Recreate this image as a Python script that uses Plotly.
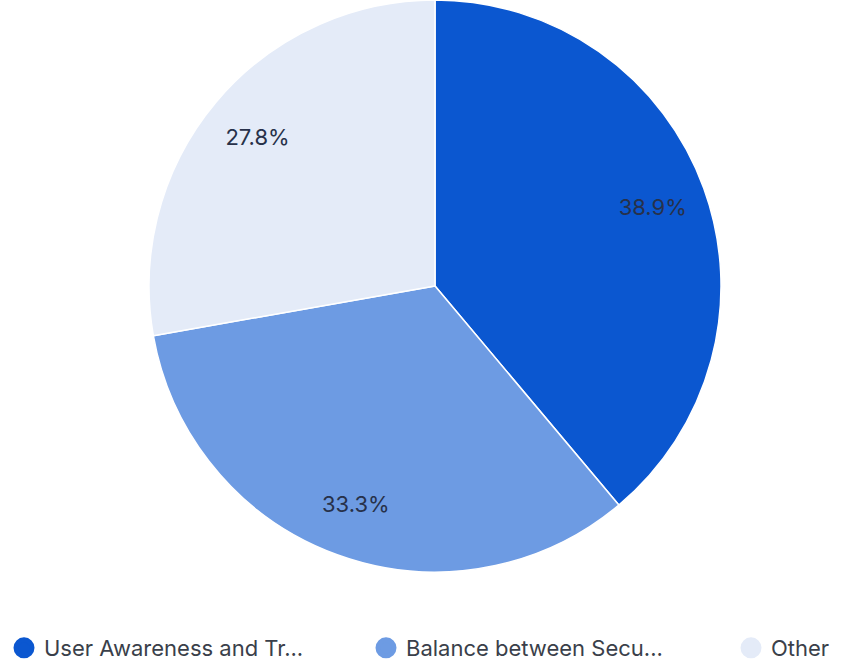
import plotly.graph_objects as go

# Survey answer shares (counts out of 18 responses)
labels = ["User Awareness and Tr...", "Balance between Secu...", "Other"]
counts = [7, 6, 5]
colors = ["#0b57d0", "#6d9be3", "#e4ebf8"]

W, H = 845, 661
radius = 286
cx, cy = 435, 286
FONT = "Inter, Roboto, sans-serif"

domain = dict(
    x=[(cx - radius) / W, (cx + radius) / W],
    y=[1 - (cy + radius) / H, 1 - (cy - radius) / H],
)

fig = go.Figure()

# Filled slices
fig.add_trace(go.Pie(
    labels=labels,
    values=counts,
    sort=False,
    direction="clockwise",
    rotation=0,
    marker=dict(colors=colors, line=dict(color="white", width=1.5)),
    textinfo="none",
    showlegend=False,
    hoverinfo="label+percent",
    domain=domain,
))

# Transparent ring on top carrying the percentage labels toward the rim
fig.add_trace(go.Pie(
    labels=labels,
    values=counts,
    sort=False,
    direction="clockwise",
    rotation=0,
    hole=0.62,
    marker=dict(colors=["rgba(0,0,0,0)"] * len(labels), line=dict(width=0)),
    texttemplate="%{percent:.1%}",
    textposition="inside",
    insidetextorientation="horizontal",
    textfont=dict(family=FONT, size=22, color="#27314a"),
    insidetextfont=dict(family=FONT, size=22, color="#27314a"),
    showlegend=False,
    hoverinfo="skip",
    domain=domain,
))

# Circle legend entries, one legend box per slice
legend_names = ["legend", "legend2", "legend3"]
legend_x = [22, 384, 749]
for name, col, lg in zip(labels, colors, legend_names):
    fig.add_trace(go.Scatter(
        x=[None], y=[None], mode="markers", name=name,
        marker=dict(symbol="circle", size=16, color=col,
                    line=dict(color=col, width=5)),
        hoverinfo="skip",
        legend=lg,
    ))

legend_style = dict(
    orientation="h",
    xanchor="left",
    y=1 - 648 / H, yanchor="middle",
    font=dict(family=FONT, size=22, color="#3a3f4a"),
    itemwidth=30,
    bgcolor="rgba(0,0,0,0)",
    borderwidth=0,
)

layout_legends = {}
for lg, px in zip(legend_names, legend_x):
    layout_legends[lg] = dict(legend_style, x=(px - 18) / W)

fig.update_layout(
    width=W, height=H,
    margin=dict(l=0, r=0, t=0, b=0, autoexpand=False),
    paper_bgcolor="white",
    plot_bgcolor="white",
    xaxis=dict(visible=False),
    yaxis=dict(visible=False),
    **layout_legends,
)

fig.write_html("out.html")
